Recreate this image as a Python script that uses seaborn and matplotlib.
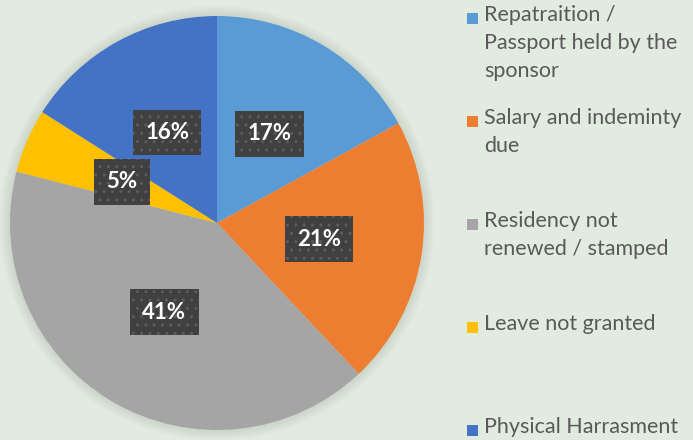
import seaborn as sns
import matplotlib.pyplot as plt
from matplotlib.patches import Rectangle, Circle

# Data
categories = ['Repatraition /\nPassport held by the\nsponsor',
              'Salary and indeminty\ndue',
              'Residency not\nrenewed / stamped',
              'Leave not granted',
              'Physical Harrasment']
shares = [17, 21, 41, 5, 16]
colors = ['#5B9BD5', '#ED7D31', '#A5A5A5', '#FFC000', '#4472C4']

bg = '#E2EBE0'
sns.set_theme(style='white')
plt.rcParams['font.family'] = ['Lato', 'DejaVu Sans']
plt.rcParams['hatch.color'] = '#5c5c5c'

fig = plt.figure(figsize=(6.93, 4.4), dpi=100, facecolor=bg)
ax = fig.add_axes([10 / 693, 10 / 440, 414 / 693, 414 / 440])
ax.set_facecolor(bg)

# soft shadow behind the pie
for k in range(4):
    ax.add_patch(Circle((0, 0), 1.0 + 0.012 * (k + 1), color='#7a8a7a', alpha=0.05,
                        lw=0, zorder=0, clip_on=False))

wedges, texts, autotexts = ax.pie(
    shares, colors=colors, startangle=90, counterclock=False,
    autopct='%d%%', pctdistance=0.5,
    wedgeprops=dict(linewidth=0),
    textprops=dict(color='white', fontsize=16, fontweight='bold'))

for t in autotexts:
    t.set_bbox(dict(boxstyle='square,pad=0.55', facecolor='#404040',
                    edgecolor='#5c5c5c', linewidth=0, hatch='..'))
ax.set_xlim(-1.0, 1.0)
ax.set_ylim(-1.0, 1.0)
ax.set_aspect('equal')
ax.axis('off')

# legend drawn Excel-style: marker on first line, evenly spaced entries
top = 1 - 8 / 440
step = 103 / 440
for i, (label, c) in enumerate(zip(categories, colors)):
    y = top - i * step
    fig.patches.append(Rectangle((467 / 693, y - 16 / 440), 11 / 693, 11 / 440,
                                 transform=fig.transFigure, facecolor=c, edgecolor='none'))
    fig.text(484 / 693, y + 3 / 440, label, ha='left', va='top', fontsize=15.5,
             color='#595959', linespacing=1.5)

fig.savefig('out.png', dpi=100, facecolor=bg)
